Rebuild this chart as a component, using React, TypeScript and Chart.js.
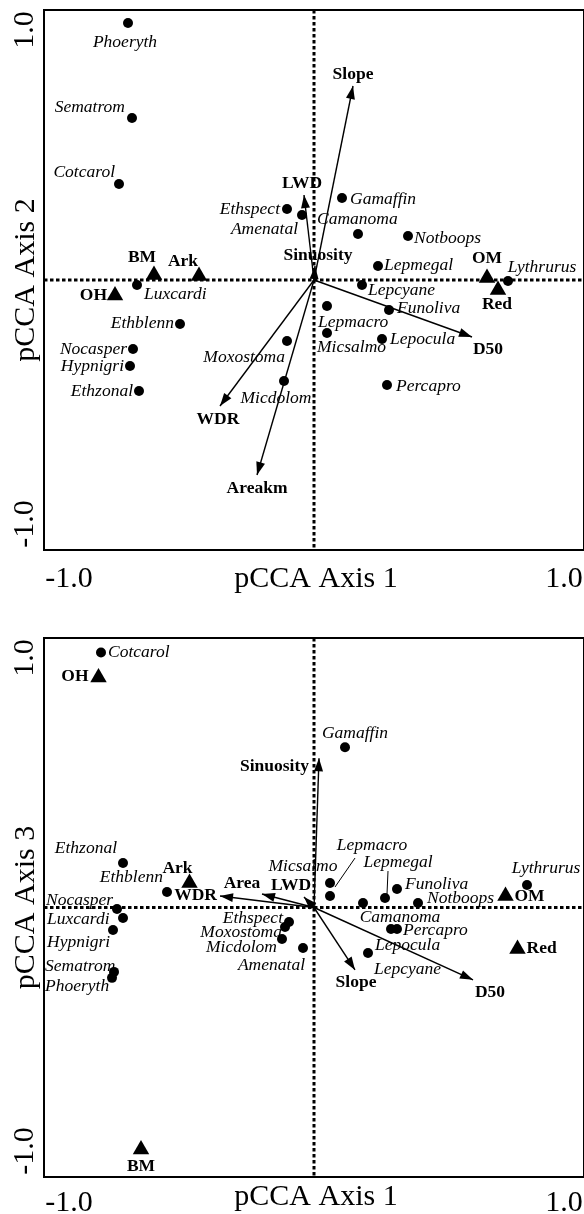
import React, { useEffect, useRef } from 'react';
import { Chart, registerables } from 'chart.js';

Chart.register(...registerables);

// ---------------- Data ----------------
const speciesNames = [
  'Cotcarol', 'Ethzonal', 'Ethblenn', 'Nocasper', 'Luxcardi', 'Hypnigri', 'Sematrom', 'Phoeryth',
  'Ethspect', 'Moxostoma', 'Micdolom', 'Amenatal', 'Micsalmo', 'Lepmacro', 'Lepmegal', 'Funoliva',
  'Notboops', 'Camanoma', 'Percapro', 'Lepocula', 'Lepcyane', 'Lythrurus', 'Gamaffin',
];
// panel 1: pCCA axis 1 vs axis 2
const speciesAxis1Top = [
  -0.78, -0.70, -0.536, -0.724, -0.708, -0.736, -0.728, -0.744,
  -0.108, -0.108, -0.12, -0.048, 0.052, 0.052, 0.256, 0.30,
  0.376, 0.176, 0.292, 0.272, 0.192, 0.776, 0.112,
];
const speciesAxis2 = [
  0.384, -0.444, -0.176, -0.276, -0.02, -0.344, 0.648, 1.028,
  0.284, -0.244, -0.404, 0.26, -0.212, -0.104, 0.056, -0.12,
  0.176, 0.184, -0.42, -0.236, -0.02, -0.004, 0.328,
];
// panel 2: pCCA axis 1 vs axis 3
const speciesAxis1Bottom = [
  -0.852, -0.764, -0.588, -0.788, -0.764, -0.804, -0.80, -0.808,
  -0.10, -0.116, -0.128, -0.044, 0.064, 0.064, 0.284, 0.332,
  0.416, 0.196, 0.332, 0.308, 0.216, 0.852, 0.124,
];
const speciesAxis3 = [
  1.022, 0.178, 0.062, -0.006, -0.042, -0.09, -0.258, -0.282,
  -0.058, -0.078, -0.126, -0.162, 0.046, 0.098, 0.038, 0.074,
  0.018, 0.018, -0.086, -0.086, -0.182, 0.09, 0.642,
];

const siteNames = ['BM', 'Ark', 'OH', 'OM', 'Red'];
const sitesAxis1Top = [-0.64, -0.46, -0.796, 0.692, 0.736];
const sitesAxis2 = [0.02, 0.016, -0.062, 0.008, -0.04];
const sitesAxis1Bottom = [-0.692, -0.498, -0.862, 0.766, 0.814];
const sitesAxis3 = [-0.97, 0.098, 0.922, 0.046, -0.166];

const envNamesTop = ['Slope', 'LWD', 'Sinuosity', 'D50', 'WDR', 'Areakm'];
const envAxis1Top = [0.156, -0.04, 0.004, 0.632, -0.376, -0.228];
const envAxis2 = [0.776, 0.34, 0.056, -0.228, -0.504, -0.78];
const envNamesBottom = ['Slope', 'LWD', 'Sinuosity', 'D50', 'WDR', 'Area'];
const envAxis1Bottom = [0.164, -0.04, 0.02, 0.636, -0.376, -0.208];
const envAxis3 = [-0.25, 0.042, 0.598, -0.29, 0.046, 0.054];

const tickValues = [-1, 1];
const tickLabels = ['-1.0', '1.0'];
const axisLimit = 1.08;

// ---------------- Label placement (pixel offsets from the mark) ----------------
type Place = [number, number, CanvasTextAlign];
const speciesPlaceTop: Record<string, Place> = {
  Phoeryth: [-3, 19, 'center'], Sematrom: [-7, -11, 'right'], Cotcarol: [-4, -12, 'right'],
  Ethspect: [-7, 0, 'right'], Amenatal: [-4, 14, 'right'], Gamaffin: [8, 1, 'left'],
  Camanoma: [-41, -15, 'left'], Notboops: [6, 2, 'left'], Lepmegal: [6, -1, 'left'],
  Lepcyane: [6, 5, 'left'], Funoliva: [8, -2, 'left'], Lepmacro: [-9, 16, 'left'],
  Micsalmo: [-10, 14, 'left'], Lepocula: [8, 0, 'left'], Percapro: [9, 1, 'left'],
  Moxostoma: [-2, 16, 'right'], Micdolom: [-8, 17, 'center'], Lythrurus: [34, -14, 'center'],
  Luxcardi: [7, 9, 'left'], Ethblenn: [-6, -1, 'right'], Nocasper: [-6, 0, 'right'],
  Hypnigri: [-6, 0, 'right'], Ethzonal: [-6, 0, 'right'],
};
const sitePlaceTop: Record<string, Place> = {
  BM: [-12, -18, 'center'], Ark: [-16, -15, 'center'], OH: [-8, 0, 'right'],
  OM: [0, -20, 'center'], Red: [-1, 14, 'center'],
};
const envPlaceTop: Record<string, Place> = {
  Slope: [0, -12, 'center'], LWD: [-2, -12, 'center'], Sinuosity: [3, -11, 'center'],
  D50: [16, 12, 'center'], WDR: [-2, 13, 'center'], Areakm: [0, 13, 'center'],
};
const speciesPlaceBottom: Record<string, Place> = {
  Cotcarol: [7, 0, 'left'], Ethzonal: [-6, -15, 'right'], Ethblenn: [-4, -15, 'right'],
  Nocasper: [-71, -9, 'left'], Luxcardi: [-76, 1, 'left'], Hypnigri: [-66, 12, 'left'],
  Sematrom: [-69, -5, 'left'], Phoeryth: [-67, 9, 'left'], Ethspect: [-6, -4, 'right'],
  Moxostoma: [-3, 5, 'right'], Micdolom: [-5, 8, 'right'], Amenatal: [2, 17, 'right'],
  Micsalmo: [-27, -30, 'center'], Lepmacro: [42, -38, 'center'], Lepmegal: [13, -36, 'center'],
  Funoliva: [8, -5, 'left'], Notboops: [9, -5, 'left'], Camanoma: [37, 14, 'center'],
  Percapro: [6, 1, 'left'], Lepocula: [-16, 16, 'left'], Lepcyane: [6, 16, 'left'],
  Lythrurus: [19, -17, 'center'], Gamaffin: [10, -14, 'center'],
};
const sitePlaceBottom: Record<string, Place> = {
  BM: [0, 17, 'center'], Ark: [-12, -15, 'center'], OH: [-10, -1, 'right'],
  OM: [9, 0, 'left'], Red: [9, 0, 'left'],
};
const envPlaceBottom: Record<string, Place> = {
  Slope: [1, 13, 'center'], LWD: [-13, -12, 'center'], Sinuosity: [-10, 8, 'right'],
  D50: [17, 13, 'center'], WDR: [-3, -1, 'right'], Area: [-20, -11, 'center'],
};
// leader lines: [name, x1, y1, x2, y2] offsets from the species mark
const leadersBottom: [string, number, number, number, number][] = [
  ['Lepmacro', 5, 4, 25, -25],
  ['Lepmegal', 2, -4, 3, -27],
];

const SERIF = '"Liberation Serif", "Times New Roman", serif';

interface PanelProps {
  height: number;
  padTop: number;
  padBottom: number;
  xTitle: string;
  yTitle: string;
  tickBaseline: number;
  titleBaseline: number;
  spX: number[]; spY: number[];
  stX: number[]; stY: number[];
  envNames: string[]; envX: number[]; envY: number[];
  spPlace: Record<string, Place>;
  stPlace: Record<string, Place>;
  envPlace: Record<string, Place>;
  leaders: [string, number, number, number, number][];
}

function Panel(p: PanelProps) {
  const ref = useRef<HTMLCanvasElement | null>(null);

  useEffect(() => {
    if (!ref.current) return;

    const overlay = {
      id: 'overlay',
      beforeDatasetsDraw(chart: any) {
        const { ctx, chartArea: a, scales } = chart;
        const x0 = scales.x.getPixelForValue(0);
        const y0 = scales.y.getPixelForValue(0);
        ctx.save();
        ctx.strokeStyle = '#000';
        ctx.lineWidth = 3;
        ctx.setLineDash([3.5, 2.5]);
        ctx.beginPath();
        ctx.moveTo(a.left, y0);
        ctx.lineTo(a.right, y0);
        ctx.moveTo(x0, a.top);
        ctx.lineTo(x0, a.bottom);
        ctx.stroke();
        ctx.restore();
      },
      afterDatasetsDraw(chart: any) {
        const { ctx, chartArea: a, scales } = chart;
        const sx = scales.x, sy = scales.y;
        const ox = sx.getPixelForValue(0), oy = sy.getPixelForValue(0);
        ctx.save();
        ctx.fillStyle = '#000';
        ctx.strokeStyle = '#000';

        // arrowheads
        p.envNames.forEach((n, i) => {
          const tx = sx.getPixelForValue(p.envX[i]);
          const ty = sy.getPixelForValue(p.envY[i]);
          const ang = Math.atan2(ty - oy, tx - ox);
          const L = 13, W = 4.5;
          const bx = tx - L * Math.cos(ang), by = ty - L * Math.sin(ang);
          ctx.beginPath();
          ctx.moveTo(tx, ty);
          ctx.lineTo(bx - W * Math.sin(ang), by + W * Math.cos(ang));
          ctx.lineTo(bx + W * Math.sin(ang), by - W * Math.cos(ang));
          ctx.closePath();
          ctx.fill();
        });

        ctx.textBaseline = 'middle';
        // species labels
        ctx.font = `italic 17.5px ${SERIF}`;
        speciesNames.forEach((n, i) => {
          const pl = p.spPlace[n];
          if (!pl) return;
          const px = sx.getPixelForValue(p.spX[i]);
          const py = sy.getPixelForValue(p.spY[i]);
          ctx.textAlign = pl[2];
          ctx.fillText(n, px + pl[0], py + pl[1]);
        });
        // leader lines
        ctx.lineWidth = 1;
        p.leaders.forEach(([n, x1, y1, x2, y2]) => {
          const i = speciesNames.indexOf(n);
          const px = sx.getPixelForValue(p.spX[i]);
          const py = sy.getPixelForValue(p.spY[i]);
          ctx.beginPath();
          ctx.moveTo(px + x1, py + y1);
          ctx.lineTo(px + x2, py + y2);
          ctx.stroke();
        });
        // site + env labels
        ctx.font = `bold 17.5px ${SERIF}`;
        siteNames.forEach((n, i) => {
          const pl = p.stPlace[n];
          const px = sx.getPixelForValue(p.stX[i]);
          const py = sy.getPixelForValue(p.stY[i]);
          ctx.textAlign = pl[2];
          ctx.fillText(n, px + pl[0], py + pl[1]);
        });
        p.envNames.forEach((n, i) => {
          const pl = p.envPlace[n];
          const px = sx.getPixelForValue(p.envX[i]);
          const py = sy.getPixelForValue(p.envY[i]);
          ctx.textAlign = pl[2];
          ctx.fillText(n, px + pl[0], py + pl[1]);
        });

        // frame
        ctx.lineWidth = 2;
        ctx.strokeRect(a.left, a.top, a.right - a.left, a.bottom - a.top);

        // axes text
        ctx.font = `30px ${SERIF}`;
        ctx.textBaseline = 'alphabetic';
        ctx.textAlign = 'center';
        tickValues.forEach((v, i) => {
          const shift = tickLabels[i].startsWith('-') ? 5 : 0;
          ctx.fillText(tickLabels[i], sx.getPixelForValue(v) + shift, p.tickBaseline);
        });
        ctx.fillText(p.xTitle, (a.left + a.right) / 2 + 2, p.titleBaseline);
        const rotText = (t: string, x: number, y: number) => {
          ctx.save();
          ctx.translate(x, y);
          ctx.rotate(-Math.PI / 2);
          ctx.fillText(t, 0, 0);
          ctx.restore();
        };
        tickValues.forEach((v, i) => {
          const shift = tickLabels[i].startsWith('-') ? -6 : 0;
          rotText(tickLabels[i], 33, sy.getPixelForValue(v) + shift);
        });
        rotText(p.yTitle, 34, (a.top + a.bottom) / 2);
        ctx.restore();
      },
    };

    const envSets = p.envNames.map((n, i) => ({
      label: n,
      data: [{ x: 0, y: 0 }, { x: p.envX[i], y: p.envY[i] }],
      showLine: true,
      borderColor: '#000',
      borderWidth: 1.4,
      pointRadius: 0,
    }));

    const chart = new Chart(ref.current, {
      type: 'scatter',
      data: {
        datasets: [
          ...envSets,
          {
            label: 'species',
            data: speciesNames.map((_, i) => ({ x: p.spX[i], y: p.spY[i] })),
            pointStyle: 'circle',
            pointRadius: 5,
            backgroundColor: '#000',
            borderWidth: 0,
          },
          {
            label: 'sites',
            data: siteNames.map((_, i) => ({ x: p.stX[i], y: p.stY[i] })),
            pointStyle: 'triangle',
            pointRadius: 9.5,
            backgroundColor: '#000',
            borderWidth: 0,
          },
        ] as any,
      },
      options: {
        responsive: false,
        animation: false,
        devicePixelRatio: 1,
        events: [],
        layout: {
          autoPadding: false,
          padding: { left: 44, right: 0, top: p.padTop, bottom: p.padBottom },
        },
        plugins: { legend: { display: false }, tooltip: { enabled: false } },
        scales: {
          x: { type: 'linear', min: -axisLimit, max: axisLimit, display: false },
          y: { type: 'linear', min: -axisLimit, max: axisLimit, display: false },
        },
      } as any,
      plugins: [overlay],
    });
    return () => chart.destroy();
  }, []);

  return <canvas ref={ref} width={584} height={p.height} style={{ display: 'block' }} />;
}

export default function App() {
  return (
    <div style={{ width: 584, background: '#fff' }}>
      <style>{'body{margin:0;background:#fff;}'}</style>
      <Panel
        height={607}
        padTop={10}
        padBottom={57}
        xTitle="pCCA Axis 1"
        yTitle="pCCA Axis 2"
        tickBaseline={587}
        titleBaseline={587}
        spX={speciesAxis1Top}
        spY={speciesAxis2}
        stX={sitesAxis1Top}
        stY={sitesAxis2}
        envNames={envNamesTop}
        envX={envAxis1Top}
        envY={envAxis2}
        spPlace={speciesPlaceTop}
        stPlace={sitePlaceTop}
        envPlace={envPlaceTop}
        leaders={[]}
      />
      <Panel
        height={607}
        padTop={31}
        padBottom={37}
        xTitle="pCCA Axis 1"
        yTitle="pCCA Axis 3"
        tickBaseline={604}
        titleBaseline={598}
        spX={speciesAxis1Bottom}
        spY={speciesAxis3}
        stX={sitesAxis1Bottom}
        stY={sitesAxis3}
        envNames={envNamesBottom}
        envX={envAxis1Bottom}
        envY={envAxis3}
        spPlace={speciesPlaceBottom}
        stPlace={sitePlaceBottom}
        envPlace={envPlaceBottom}
        leaders={leadersBottom}
      />
    </div>
  );
}
